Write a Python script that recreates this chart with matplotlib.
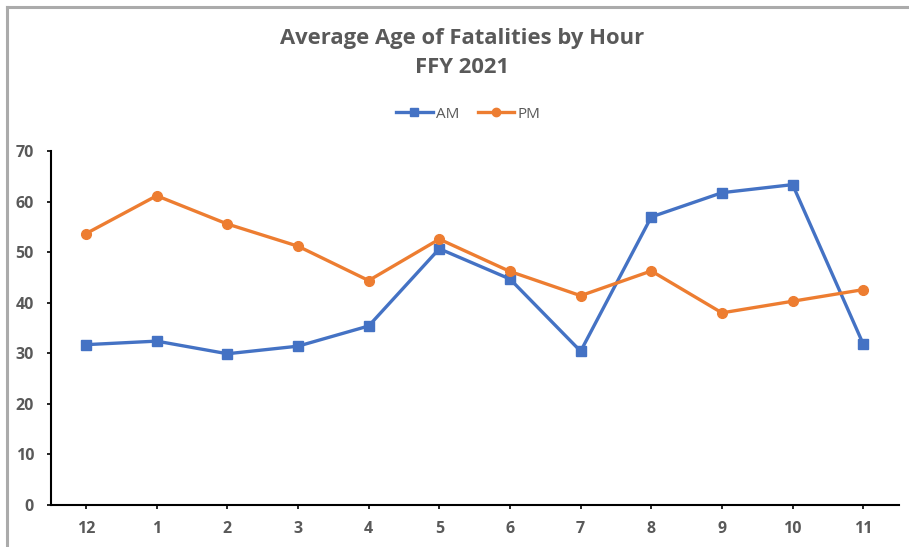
import numpy as np
import matplotlib
matplotlib.use("Agg")
import matplotlib.pyplot as plt
from matplotlib.lines import Line2D

# data
hours = ['12', '1', '2', '3', '4', '5', '6', '7', '8', '9', '10', '11']
am_age = [31.7, 32.4, 29.9, 31.4, 35.4, 50.7, 44.7, 30.4, 57.0, 61.8, 63.4, 31.8]
pm_age = [53.7, 61.2, 55.6, 51.2, 44.4, 52.6, 46.2, 41.4, 46.3, 38.0, 40.3, 42.6]
y_ticks = [0, 10, 20, 30, 40, 50, 60, 70]

blue = '#4472C4'
orange = '#ED7D31'
grey = '#595959'

plt.rcParams['font.family'] = ['Open Sans', 'DejaVu Sans']

fig = plt.figure(figsize=(9.09, 5.47), dpi=100)
ax = fig.add_axes([50.7 / 909, 1 - 504.7 / 547, (898.6 - 50.7) / 909, (504.7 - 151.3) / 547])

x = np.arange(len(hours))
ax.plot(x, am_age, color=blue, lw=2.4, marker='s', ms=7, label='AM')
ax.plot(x, pm_age, color=orange, lw=2.4, marker='o', ms=7, label='PM')

ax.set_xlim(-0.5, len(hours) - 0.5)
ax.set_ylim(0, 70)
ax.set_xticks(x)
ax.set_xticklabels(hours)
ax.set_yticks(y_ticks)
for side in ['top', 'right']:
    ax.spines[side].set_visible(False)
for side in ['left', 'bottom']:
    ax.spines[side].set_linewidth(1.5)
    ax.spines[side].set_color('black')
ax.tick_params(axis='both', direction='out', length=3, width=1.2, color='black',
               labelcolor=grey, labelsize=11.5)
ax.tick_params(axis='x', pad=9)
ax.tick_params(axis='y', pad=9)
for lab in ax.get_xticklabels() + ax.get_yticklabels():
    lab.set_fontweight('bold')

# title
fig.text(0.508, 1 - 53 / 547, 'Average Age of Fatalities by Hour\nFFY 2021', ha='center', va='center',
         fontsize=15.8, fontweight='bold', color=grey, linespacing=1.45)

# legend
handles = [Line2D([0], [0], color=blue, lw=2.4, marker='s', ms=6),
           Line2D([0], [0], color=orange, lw=2.4, marker='o', ms=6)]
fig.legend(handles, ['AM', 'PM'], loc='center', bbox_to_anchor=(0.515, 1 - 114 / 547), ncol=2,
           frameon=False, fontsize=11, labelcolor=grey, handlelength=2.4, columnspacing=1.2,
           handletextpad=0.2)

# chart frame (top and left edges visible)
fig.add_artist(Line2D([7.5 / 909, 7.5 / 909], [0, 1 - 6.5 / 547], color='#ABABAB', lw=2.2))
fig.add_artist(Line2D([7.5 / 909, 1], [1 - 6.5 / 547, 1 - 6.5 / 547], color='#ABABAB', lw=2.2))

fig.savefig('out.png', dpi=100)
